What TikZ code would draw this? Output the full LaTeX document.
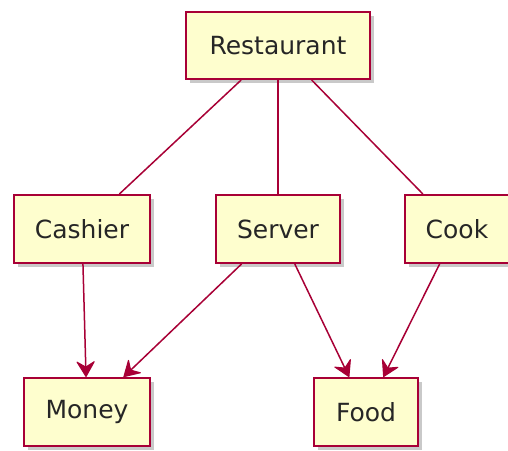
\documentclass[tikz,border=0pt]{standalone}
\usepackage{fontspec}
\setmainfont{DejaVu Sans}
\usetikzlibrary{arrows.meta,shadows}
\definecolor{boxfill}{HTML}{FEFECE}
\definecolor{boxline}{HTML}{A80036}
\definecolor{txt}{HTML}{262626}
\tikzset{
  objbox/.style={draw=boxline, fill=boxfill, line width=2pt, inner sep=0pt,
    text=txt, font=\fontsize{25}{30}\selectfont, minimum height=68pt,
    drop shadow={shadow xshift=4pt, shadow yshift=-4pt, opacity=0.35, fill=black!60}},
  link/.style={draw=boxline, line width=1.5pt},
  arrowlink/.style={link, arrows={-Stealth[length=17pt, width=20pt, inset=6pt, line width=1pt, round]}}
}
\begin{document}
\begin{tikzpicture}[x=1pt, y=-1pt]
\useasboundingbox (0,0) rectangle (508,450);
\clip (0,0) rectangle (508,450);
\fill[white] (0,0) rectangle (508,450);
\node[objbox, minimum width=184pt, minimum height=67pt] (rest) at (278,45.5) {Restaurant};
\node[objbox, minimum width=136pt] (cash) at (82,229) {Cashier};
\node[objbox, minimum width=124pt] (serv) at (278,229) {Server};
\node[objbox, minimum width=104pt] (cook) at (457,229) {Cook};
\node[objbox, minimum width=126pt] (money) at (87,412) {Money};
\node[objbox, minimum width=104pt] (food) at (366,412) {Food};
\draw[link] (rest) -- (cash);
\draw[link] (rest) -- (serv);
\draw[link] (rest) -- (cook);
\draw[arrowlink] (cash) -- (money);
\draw[arrowlink] (serv) -- (money);
\draw[arrowlink] (serv) -- (food);
\draw[arrowlink] (cook) -- (food);
\end{tikzpicture}
\end{document}
